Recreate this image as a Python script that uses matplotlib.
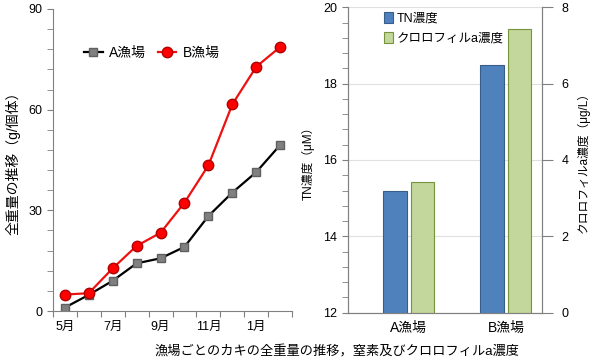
import numpy as np
import matplotlib.pyplot as plt
from matplotlib.ticker import MultipleLocator, FixedLocator

plt.rcParams['font.family'] = ['Liberation Sans', 'Noto Sans CJK JP', 'DejaVu Sans']

# growth data (g per individual), May -> Feb
months = ["5月", "6月", "7月", "8月", "9月", "10月", "11月", "12月", "1月", "2月"]
a_weight = [1.0, 4.8, 9.0, 14.2, 15.7, 19.1, 28.3, 35.3, 41.4, 49.5]
b_weight = [4.9, 5.3, 12.7, 19.4, 23.3, 32.3, 43.4, 61.6, 72.8, 78.7]

# concentration data
sites = ["A漁場", "B漁場"]
tn_conc = [15.2, 18.5]
chl_conc = [3.42, 7.44]

fig = plt.figure(figsize=(6.0, 3.61), dpi=100)

# ---- left: weight line chart
ax1 = fig.add_axes([0.088, 0.1385, 0.399, 0.8366])
x = np.arange(len(months))
ax1.plot(x, a_weight, color="black", lw=1.6, marker="s", ms=6,
         mfc="#808080", mec="#606060", label="A漁場")
ax1.plot(x, b_weight, color="#ee1111", lw=1.6, marker="o", ms=7.5,
         mfc="#ff0000", mec="#b00000", label="B漁場")
ax1.set_xlim(-0.5, len(months) - 0.5)
ax1.set_ylim(0, 90)
ax1.yaxis.set_major_locator(MultipleLocator(30))
ax1.yaxis.set_minor_locator(MultipleLocator(6))
ax1.xaxis.set_major_locator(FixedLocator(np.arange(-0.5, len(months), 1)))
ax1.xaxis.set_major_formatter(plt.NullFormatter())
ax1.xaxis.set_minor_locator(FixedLocator(x[::2]))
ax1.set_xticklabels([months[i] for i in x[::2]], minor=True)
ax1.tick_params(axis="x", which="major", length=4, color="#808080")
ax1.tick_params(axis="x", which="minor", length=0, labelsize=9, pad=7)
ax1.tick_params(axis="y", which="both", length=4, color="#808080", labelsize=9)
for s in ["top", "right"]:
    ax1.spines[s].set_visible(False)
for s in ["left", "bottom"]:
    ax1.spines[s].set_color("#808080")
ax1.set_ylabel("全重量の推移（g/個体）", fontsize=10, labelpad=6)
ax1.legend(loc="upper left", bbox_to_anchor=(0.08, 0.92), ncol=2, frameon=False,
           fontsize=10, handlelength=1.3, columnspacing=0.8, handletextpad=0.5)

# ---- right: concentration bar chart
ax2 = fig.add_axes([0.5795, 0.1338, 0.3235, 0.846])
xs = np.arange(len(sites))
w = 0.245
ax2.bar(xs - 0.14, tn_conc, width=w, color="#4f81bd", edgecolor="#385d8a",
        lw=0.8, label="TN濃度", zorder=2)
ax2.set_ylim(12, 20)
ax2.set_xlim(-0.63, 1.37)
ax2.yaxis.set_major_locator(MultipleLocator(2))
ax2.yaxis.set_minor_locator(MultipleLocator(0.4))
ax2.grid(axis="y", which="major", color="#e0e0e0", lw=0.8, zorder=0)
ax2.set_xticks(xs)
ax2.set_xticklabels(sites, fontsize=10)
ax2.tick_params(axis="x", length=0, pad=6)
ax2.tick_params(axis="y", which="both", length=4, color="#808080", labelsize=9)
ax2.spines["top"].set_visible(False)
for s in ["left", "bottom", "right"]:
    ax2.spines[s].set_color("#808080")
ax2.set_ylabel("TN濃度（μM）", fontsize=8.5, labelpad=6)

ax3 = ax2.twinx()
ax3.bar(xs + 0.14, chl_conc, width=w, color="#c3d69b", edgecolor="#77933c",
        lw=0.8, label="クロロフィルa濃度", zorder=2)
ax3.set_ylim(0, 8)
ax3.yaxis.set_major_locator(MultipleLocator(2))
ax3.tick_params(axis="y", length=8, color="#808080", labelsize=9, pad=6)
ax3.spines["top"].set_visible(False)
for s in ["left", "bottom", "right"]:
    ax3.spines[s].set_color("#808080")
ax3.set_ylabel("クロロフィルa濃度（μg/L）", fontsize=8.5, rotation=90, labelpad=6)

h2, l2 = ax2.get_legend_handles_labels()
h3, l3 = ax3.get_legend_handles_labels()
ax3.legend(h2 + h3, l2 + l3, loc="upper left", bbox_to_anchor=(0.13, 1.02),
           frameon=False, fontsize=9, handlelength=0.7, handleheight=0.9,
           handletextpad=0.3, labelspacing=0.6)

fig.text(0.562, 0.025, "漁場ごとのカキの全重量の推移，窒素及びクロロフィルa濃度",
         ha="center", va="center", fontsize=9.5)

fig.savefig("out.png", dpi=100)
